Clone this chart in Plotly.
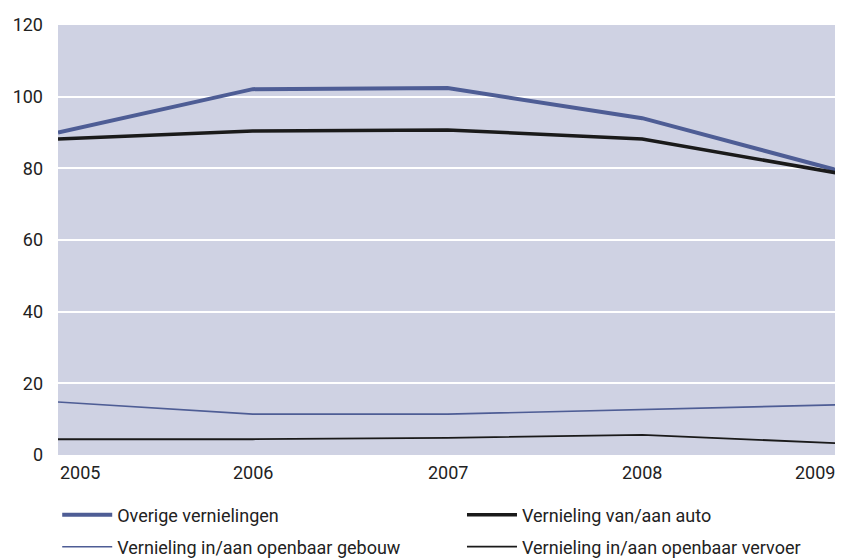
import plotly.graph_objects as go

years = [2005, 2006, 2007, 2008, 2009]
overige = [90, 102.1, 102.4, 94, 79.5]
auto = [88.2, 90.4, 90.7, 88.2, 78.7]
gebouw = [14.8, 11.4, 11.4, 12.8, 14.0]
vervoer = [4.4, 4.4, 4.8, 5.6, 3.3]
y_ticks = [0, 20, 40, 60, 80, 100, 120]

blue = '#4E5D95'
black = '#1A1A1A'

fig = go.Figure()
fig.add_trace(go.Scatter(x=years, y=overige, mode='lines', name='Overige vernielingen',
                         line=dict(color=blue, width=4), legend='legend'))
fig.add_trace(go.Scatter(x=years, y=auto, mode='lines', name='Vernieling van/aan auto',
                         line=dict(color=black, width=3.5), legend='legend2'))
fig.add_trace(go.Scatter(x=years, y=gebouw, mode='lines', name='Vernieling in/aan openbaar gebouw',
                         line=dict(color=blue, width=1.6), legend='legend3'))
fig.add_trace(go.Scatter(x=years, y=vervoer, mode='lines', name='Vernieling in/aan openbaar vervoer',
                         line=dict(color=black, width=1.8), legend='legend4'))

# x tick labels: first left-aligned, last right-aligned
for i, yr in enumerate(years):
    anchor = 'left' if i == 0 else ('right' if i == len(years) - 1 else 'center')
    fig.add_annotation(x=yr, y=0, xref='x', yref='y', text=str(yr), showarrow=False,
                       xanchor=anchor, yanchor='top', yshift=-5,
                       font=dict(size=18, color='#222'))

def leg(x, y):
    return dict(orientation='h', x=x, xanchor='left', y=y, yanchor='middle',
                font=dict(size=18, color='#222'), itemwidth=50, bgcolor='rgba(0,0,0,0)')

# page body has an 8px margin, so the figure is a bit smaller than the window
fig.update_layout(
    width=835, height=552,
    margin=dict(l=50, r=6, t=17, b=105, autoexpand=False),
    paper_bgcolor='white', plot_bgcolor='#CFD2E3',
    font=dict(family='Roboto, Arial, sans-serif', size=18, color='#222'),
    showlegend=True,
    legend=leg(-0.001, -0.1395),
    legend2=leg(0.5186, -0.1395),
    legend3=leg(-0.001, -0.214),
    legend4=leg(0.5186, -0.214),
)
fig.update_xaxes(range=[2005, 2009], showticklabels=False, showgrid=False,
                 zeroline=False, showline=False, fixedrange=True)
fig.update_yaxes(range=[0, 120], tickvals=y_ticks, showgrid=True, gridcolor='white',
                 gridwidth=2, zeroline=False, showline=False, ticks='', automargin=False,
                 ticklabelstandoff=14, tickfont=dict(size=18))

fig.write_html("out.html")
